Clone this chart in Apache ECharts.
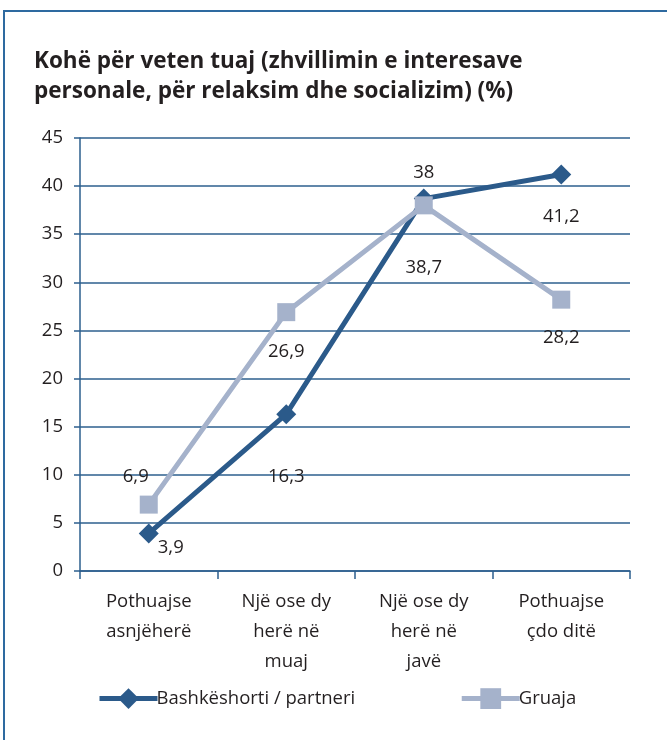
<!DOCTYPE html>
<html><head><meta charset="utf-8">
<script src="https://cdn.jsdelivr.net/npm/echarts@6/dist/echarts.min.js"></script>
<style>html,body{margin:0;padding:0;background:#fff}#c{width:667px;height:740px}</style>
</head><body><div id="c"></div>
<script>
const categories = ["Pothuajse\nasnjëherë", "Një ose dy\nherë në\nmuaj", "Një ose dy\nherë në\njavë", "Pothuajse\nçdo ditë"];
const partnerValues = [3.9, 16.3, 38.7, 41.2];
const gruajaValues = [6.9, 26.9, 38, 28.2];
const yTicks = [0, 45, 5];
const seriesNames = ["Bashkëshorti / partneri", "Gruaja"];
const titleText = "Kohë për veten tuaj (zhvillimin e interesave\npersonale, për relaksim dhe socializim) (%)";

const FONT = "Open Sans";
const TXT = "#231f20";
const FS = 18.5;
const fmt = p => String(p.value).replace('.', ',');
const partnerOffsets = [[22, 14], [0, 63], [0, 69], [0, 42]];
const gruajaOffsets = [[-13, -28], [0, 40], [0, -33], [0, 38]];

const chart = echarts.init(document.getElementById('c'), null, {renderer: 'canvas'});
chart.setOption({
  animation: false,
  textStyle: {fontFamily: FONT, color: TXT},
  graphic: [{type: 'rect', shape: {x: 4, y: 11, width: 700, height: 760},
    style: {fill: 'none', stroke: '#2e6aa0', lineWidth: 2}, z: -1}],
  title: {text: titleText, left: 29, top: 42,
    textStyle: {fontFamily: FONT, fontWeight: 'bold', fontSize: 22.5, lineHeight: 30, color: TXT}},
  grid: {left: 80, right: 37, top: 138, bottom: 169, containLabel: false},
  legend: {bottom: 26, left: 92, itemWidth: 58, itemHeight: 26, itemGap: 104,
    lineStyle: {width: 5},
    textStyle: {fontFamily: FONT, fontSize: FS, color: TXT, padding: [0, 0, 0, -6]},
    data: seriesNames},
  xAxis: {type: 'category', data: categories, boundaryGap: true,
    axisLine: {lineStyle: {color: '#2c5f8e', width: 1.5}},
    axisTick: {show: true, length: 8, lineStyle: {color: '#2c5f8e', width: 1.5}},
    axisLabel: {fontSize: FS, lineHeight: 30, color: TXT, margin: 16, interval: 0}},
  yAxis: {type: 'value', min: yTicks[0], max: yTicks[1], interval: yTicks[2],
    axisLine: {show: true, lineStyle: {color: '#2c5f8e', width: 1.5}},
    axisTick: {show: true, length: 6, lineStyle: {color: '#2c5f8e', width: 1.5}},
    axisLabel: {fontSize: FS, color: TXT, margin: 17},
    splitLine: {lineStyle: {color: '#2c5f8e', width: 1.5}}},
  series: [
    {name: seriesNames[0], type: 'line', symbol: 'diamond', symbolSize: 20,
      lineStyle: {color: '#2b5a8a', width: 5}, itemStyle: {color: '#2b5a8a'},
      data: partnerValues.map((v, i) => ({value: v,
        label: {show: true, position: 'inside', offset: partnerOffsets[i], formatter: fmt,
          fontSize: FS, color: TXT, fontFamily: FONT}}))},
    {name: seriesNames[1], type: 'line', symbol: 'rect', symbolSize: 18,
      lineStyle: {color: '#a5b2cb', width: 5}, itemStyle: {color: '#a5b2cb'},
      data: gruajaValues.map((v, i) => ({value: v,
        label: {show: true, position: 'inside', offset: gruajaOffsets[i], formatter: fmt,
          fontSize: FS, color: TXT, fontFamily: FONT}}))}
  ]
});
</script></body></html>
